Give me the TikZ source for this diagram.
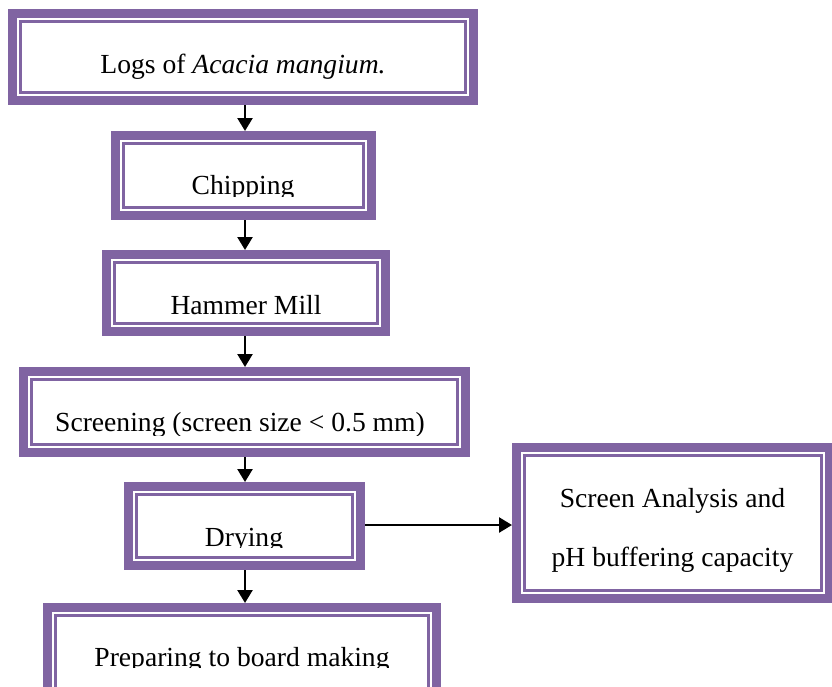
\documentclass[tikz,border=0pt]{standalone}
\usepackage{fontspec}
\setmainfont{Liberation Serif}
\usetikzlibrary{arrows.meta}
\definecolor{boxpurple}{HTML}{8064A2}
\tikzset{
  framebox/.style={draw=boxpurple, line width=9pt, fill=white, inner sep=0pt},
  innerframe/.style={draw=boxpurple, line width=2.6pt},
  flow/.style={-{Triangle[width=15pt,length=13pt]}, line width=2.5pt, draw=black},
  boxtext/.style={anchor=base, inner sep=0pt, font=\fontsize{27.6}{33}\selectfont}
}
\newcommand\framedbox[5]{%
  \node[framebox, minimum width={#4pt-#2pt-9pt}, minimum height={#5pt-#3pt-9pt}] (#1) at ({(#2+#4)/2},{(#3+#5)/2}) {};
  \draw[innerframe] ({#2+12.3},{#3+12.3}) rectangle ({#4-12.3},{#5-12.3});
}
\begin{document}
\begin{tikzpicture}[x=1pt,y=-1pt]
\useasboundingbox (0,0) rectangle (832,686);
\fill[white] (0,0) rectangle (832,686);

\framedbox{b1}{8}{9}{478}{105}
\framedbox{b2}{111}{131}{376}{220}
\framedbox{b3}{102}{250}{390}{336}
\framedbox{b4}{19}{367}{470}{457}
\framedbox{b5}{124}{482}{365}{570}
\framedbox{b6}{43}{603}{441}{705}
\framedbox{b7}{512}{443}{834}{603}

\node[boxtext] (t1) at (243,73) {Logs of \textit{Acacia mangium.}};
\begin{scope}
  \clip (0,0) rectangle (832,196);
  \node[boxtext] (t2) at (243,194) {Chipping};
\end{scope}
\node[boxtext] (t3) at (246,314) {Hammer Mill};
\begin{scope}
  \clip (0,0) rectangle (832,435);
  \node[boxtext] (t4) at (240,431) {Screening (screen size < 0.5 mm)};
\end{scope}
\begin{scope}
  \clip (0,0) rectangle (832,547);
  \node[boxtext] (t5) at (244,546) {Drying};
\end{scope}
\begin{scope}
  \clip (0,0) rectangle (832,667);
  \node[boxtext] (t6) at (242,666) {Preparing to board making};
\end{scope}
\node[boxtext] (t7) at (672.5,507) {Screen Analysis and};
\node[boxtext] (t8) at (672.5,566) {pH buffering capacity};

\coordinate (ax) at (245,0);
\coordinate (hy) at (0,525);
\draw[flow] (b1.south -| ax) -- (b2.north -| ax);
\draw[flow] (b2.south -| ax) -- (b3.north -| ax);
\draw[flow] (b3.south -| ax) -- (b4.north -| ax);
\draw[flow] (b4.south -| ax) -- (b5.north -| ax);
\draw[flow] (b5.south -| ax) -- (b6.north -| ax);
\draw[flow] (b5.east |- hy) -- (b7.west |- hy);
\end{tikzpicture}
\end{document}
